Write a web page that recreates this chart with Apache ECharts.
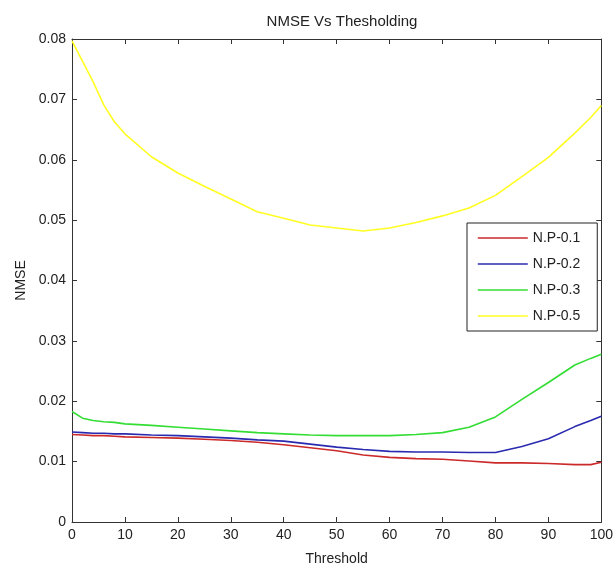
<!DOCTYPE html>
<html>
<head>
<meta charset="utf-8">
<script src="https://cdn.jsdelivr.net/npm/echarts@6/dist/echarts.min.js"></script>
<style>
html,body{margin:0;padding:0;background:#fff;}
#c{width:616px;height:573px;}
</style>
</head>
<body>
<div id="c"></div>
<script>
var thresholds = [0,2,4,6,8,10,15,20,25,30,35,40,45,50,55,60,65,70,75,80,85,90,95,98,100];
var np01 = [0.0145,0.0144,0.0143,0.0143,0.0142,0.0141,0.0140,0.0139,0.0137,0.0135,0.0132,0.0128,0.0123,0.0118,0.0111,0.0107,0.0105,0.0104,0.0101,0.0098,0.0098,0.0097,0.0095,0.0095,0.0099];
var np02 = [0.0149,0.0148,0.0147,0.0147,0.0146,0.0146,0.0144,0.0143,0.0141,0.0139,0.0136,0.0134,0.0129,0.0124,0.0120,0.0117,0.0116,0.0116,0.0115,0.0115,0.0125,0.0138,0.0158,0.0168,0.0175];
var np03 = [0.0183,0.0172,0.0168,0.0166,0.0165,0.01625,0.0160,0.0157,0.0154,0.0151,0.0148,0.0146,0.0144,0.0143,0.0143,0.0143,0.0145,0.0148,0.0157,0.0174,0.0203,0.0231,0.0260,0.0271,0.0278];
var np05 = [0.0797,0.0763,0.0729,0.0691,0.0663,0.0643,0.0605,0.0578,0.0556,0.0535,0.0514,0.0503,0.0492,0.0487,0.0482,0.0487,0.0496,0.0507,0.0520,0.0541,0.0572,0.0604,0.0644,0.0670,0.0690];
var seriesNames = ['N.P-0.1','N.P-0.2','N.P-0.3','N.P-0.5'];
var seriesColors = ['#cc2a2a','#2a2ab0','#33dd33','#ffff22'];
var xTicks = [0,10,20,30,40,50,60,70,80,90,100];
var yTicks = [0,0.01,0.02,0.03,0.04,0.05,0.06,0.07,0.08];

function pairs(v){ return thresholds.map(function(x,i){ return [x, v[i]]; }); }
var FONT = '"Liberation Sans",Arial,sans-serif';
var chart = echarts.init(document.getElementById('c'));
var axisLine = {show:true, onZero:false, lineStyle:{color:'#333', width:1}};
var tick = {show:true, inside:true, length:5, lineStyle:{color:'#333'}};
var allData = [np01,np02,np03,np05];
chart.setOption({
  backgroundColor:'#fff',
  animation:false,
  title:{text:'NMSE Vs Thesholding', left:337, textAlign:'center', top:9,
    textStyle:{fontFamily:FONT, fontSize:15, fontWeight:'normal', color:'#222'}},
  grid:{left:72, right:13, top:39, bottom:51},
  legend:{orient:'vertical', left:467, top:223, itemWidth:50, itemHeight:14, itemGap:12,
    padding:[8,17,8,10], borderColor:'#222', borderWidth:1, backgroundColor:'#fff',
    itemStyle:{opacity:0}, lineStyle:{width:1.6},
    textStyle:{fontFamily:FONT, fontSize:14, color:'#222'}, data:seriesNames},
  xAxis:[
    {type:'value', min:0, max:100, interval:10, position:'bottom',
     name:'Threshold', nameLocation:'middle', nameGap:30,
     nameTextStyle:{fontFamily:FONT, fontSize:14, color:'#222'},
     axisLine:axisLine, axisTick:tick, splitLine:{show:false},
     axisLabel:{fontFamily:FONT, fontSize:14, color:'#222', margin:6}},
    {type:'value', min:0, max:100, interval:10, position:'top',
     axisLine:axisLine, axisTick:tick, splitLine:{show:false}, axisLabel:{show:false}}
  ],
  yAxis:[
    {type:'value', min:0, max:0.08, interval:0.01, position:'left',
     name:'NMSE', nameLocation:'middle', nameGap:44, nameRotate:90,
     nameTextStyle:{fontFamily:FONT, fontSize:14, color:'#222'},
     axisLine:axisLine, axisTick:tick, splitLine:{show:false},
     axisLabel:{fontFamily:FONT, fontSize:14, color:'#222', margin:6,
       formatter:function(v){ var r=Math.round(v*100)/100; return r===0?'0':r.toFixed(2); }}},
    {type:'value', min:0, max:0.08, interval:0.01, position:'right',
     axisLine:axisLine, axisTick:tick, splitLine:{show:false}, axisLabel:{show:false}}
  ],
  series: seriesNames.map(function(n,i){
    return {name:n, type:'line', data:pairs(allData[i]), symbol:'none', smooth:false,
      color:seriesColors[i], lineStyle:{width:1.6, color:seriesColors[i]}};
  })
});
</script>
</body>
</html>
